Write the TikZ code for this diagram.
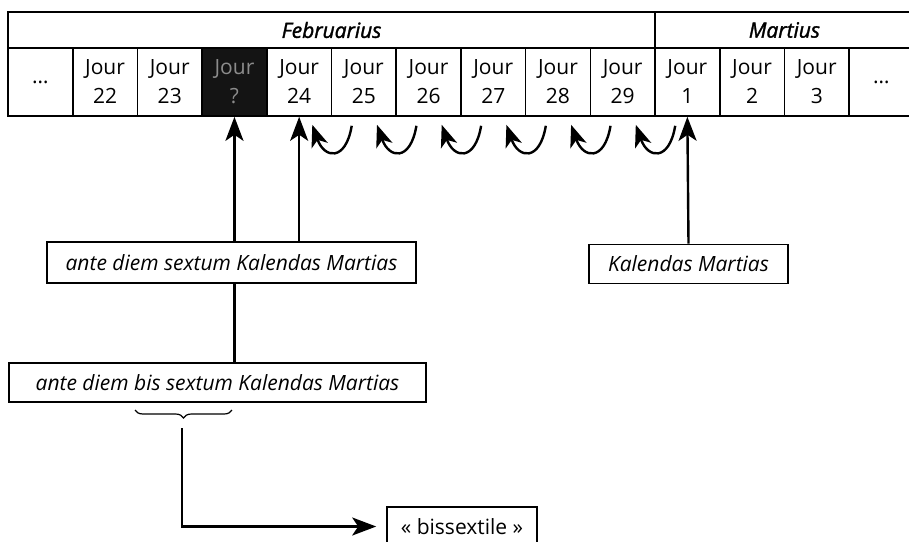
\documentclass[tikz,border=0pt]{standalone}
\usepackage{fontspec}
\setmainfont{Open Sans}
\newfontfamily\monthfont{Open Sans}[ItalicFeatures={FakeBold=1.6}]
\usetikzlibrary{arrows.meta,decorations.pathreplacing}
\tikzset{
  daycell/.style={draw, line width=0.8pt, minimum width=32.35pt, minimum height=34pt,
    inner sep=0pt, align=center, font=\fontsize{10.5}{14.5}\selectfont},
  darkcell/.style={daycell, fill=black!92, text=black!45},
  monthcell/.style={draw, line width=0.8pt, minimum height=18pt, inner sep=0pt,
    font=\fontsize{10.5}{12}\selectfont\monthfont\itshape},
  labelbox/.style={draw, line width=0.8pt, inner sep=0pt, minimum height=19.5pt,
    font=\fontsize{10.5}{12}\selectfont},
  uparrow/.style={line width=1.2pt, -{Stealth[length=12pt, width=9pt, inset=3pt]}},
  shiftarrow/.style={line width=1.2pt, -{Stealth[length=11pt, width=8.5pt, inset=3pt]}}
}
\begin{document}
\begin{tikzpicture}[x=0.5pt, y=-0.5pt]
\useasboundingbox (0,0) rectangle (909,541);
% months
\node[monthcell, minimum width=323.5pt] (feb) at (331.5,30){Februarius};
\node[monthcell, minimum width=129.4pt] (mar) at (784.4,30){Martius};
% days
\node[daycell] (c0) at (40.35,82){\dots};
\node[daycell] (c1) at (105.05,82){Jour\\22};
\node[daycell] (c2) at (169.75,82){Jour\\23};
\node[darkcell] (c3) at (234.45,82){Jour\\?};
\node[daycell] (c4) at (299.15,82){Jour\\24};
\node[daycell] (c5) at (363.85,82){Jour\\25};
\node[daycell] (c6) at (428.55,82){Jour\\26};
\node[daycell] (c7) at (493.25,82){Jour\\27};
\node[daycell] (c8) at (557.95,82){Jour\\28};
\node[daycell] (c9) at (622.65,82){Jour\\29};
\node[daycell] (c10) at (687.35,82){Jour\\1};
\node[daycell] (c11) at (752.05,82){Jour\\2};
\node[daycell] (c12) at (816.75,82){Jour\\3};
\node[daycell] (c13) at (881.45,82){\dots};
% shifted days
\draw[shiftarrow] ([shift={(21,9)}]c5.south west) .. controls +(-6,36) and +(12,34) .. ([shift={(-20,8)}]c4.south east);
\draw[shiftarrow] ([shift={(21,9)}]c6.south west) .. controls +(-6,36) and +(12,34) .. ([shift={(-20,8)}]c5.south east);
\draw[shiftarrow] ([shift={(21,9)}]c7.south west) .. controls +(-6,36) and +(12,34) .. ([shift={(-20,8)}]c6.south east);
\draw[shiftarrow] ([shift={(21,9)}]c8.south west) .. controls +(-6,36) and +(12,34) .. ([shift={(-20,8)}]c7.south east);
\draw[shiftarrow] ([shift={(21,9)}]c9.south west) .. controls +(-6,36) and +(12,34) .. ([shift={(-20,8)}]c8.south east);
\draw[shiftarrow] ([shift={(21,9)}]c10.south west) .. controls +(-6,36) and +(12,34) .. ([shift={(-20,8)}]c9.south east);
% labels
\node[labelbox, minimum width=184.5pt, minimum height=20.5pt] (sextum) at (231.5,262.5){\itshape ante diem sextum Kalendas Martias};
\node[labelbox, minimum width=99.5pt] (kal) at (688.5,264){\itshape Kalendas Martias};
\node[labelbox, minimum width=208.5pt] (bis) at (217.5,382.5){\itshape ante diem bis sextum Kalendas Martias};
\node[labelbox, minimum width=75pt] (bissext) at (462,526.5){« bissextile »};
\draw[uparrow] (sextum.north -| c3.south) -- (c3.south);
\draw[uparrow] (sextum.north -| c4.south) -- (c4.south);
\draw[uparrow] (kal.north) -- (c10.south);
\draw[line width=1.2pt] (c3.south |- sextum.south) -- (c3.south |- bis.north);
% brace
\coordinate (braceL) at (135,410);
\coordinate (braceR) at (232,410);
\coordinate (bracetip) at (182,428);
\draw[line width=0.6pt, decorate, decoration={brace, mirror, amplitude=4pt}] (braceL) -- (braceR);
\draw[uparrow] (bracetip) -- (bracetip |- bissext.west) -- ([xshift=-5pt]bissext.west);
\end{tikzpicture}
\end{document}
